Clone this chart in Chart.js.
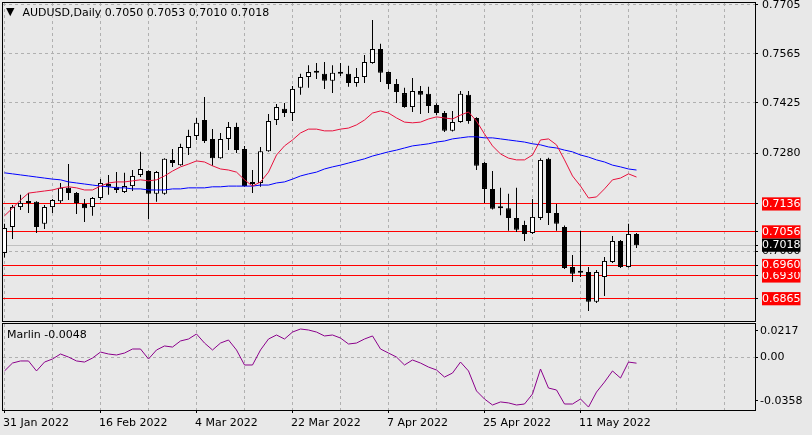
<!DOCTYPE html>
<html>
<head>
<meta charset="utf-8">
<title>AUDUSD, Daily</title>
<script src="https://cdn.jsdelivr.net/npm/chart.js@4.4.1/dist/chart.umd.min.js"></script>
<style>
  html, body { margin: 0; padding: 0; background: #e8e8e8; }
  #wrap {
    position: relative; width: 812px; height: 435px; overflow: hidden;
    background: #e8e8e8; color: #000;
    font-family: 'DejaVu Sans', sans-serif; font-size: 11px;
  }
  canvas { position: absolute; left: 0; }
  #main { top: 0; }
  #ind { top: 320px; }
  .caption { position: absolute; white-space: pre; line-height: 13px; }
  #title { left: 6px; top: 6px; }
  #title .tri { font-size: 11px; margin-right: 8px; position: relative; top: -1px; }
  #marlin { left: 7px; top: 328px; }
</style>
</head>
<body>
<div id="wrap">
  <canvas id="main" width="812" height="322"></canvas>
  <canvas id="ind" width="812" height="114"></canvas>
  <div id="title" class="caption"><span class="tri">▼</span>AUDUSD,Daily 0.7050 0.7053 0.7010 0.7018</div>
  <div id="marlin" class="caption">Marlin -0.0048</div>
</div>
<script>
/* ===== Data (one entry per daily bar, 31 Jan → 20 May 2022) ===== */
const opens = [
  0.6996, 0.7070, 0.7127, 0.7142, 0.7142, 0.7079, 0.7127, 0.7144, 0.7182, 0.7167,
  0.7136, 0.7127, 0.7153, 0.7193, 0.7185, 0.7170, 0.7187, 0.7219, 0.7230, 0.7165,
  0.7165, 0.7262, 0.7247, 0.7296, 0.7330, 0.7376, 0.7322, 0.7267, 0.7322, 0.7356,
  0.7293, 0.7196, 0.7196, 0.7287, 0.7376, 0.7408, 0.7396, 0.7468, 0.7499, 0.7511,
  0.7508, 0.7488, 0.7511, 0.7508, 0.7482, 0.7499, 0.7539, 0.7579, 0.7513, 0.7479,
  0.7453, 0.7413, 0.7459, 0.7451, 0.7419, 0.7396, 0.7345, 0.7370, 0.7448, 0.7382,
  0.7253, 0.7179, 0.7127, 0.7124, 0.7096, 0.7076, 0.7053, 0.7096, 0.7265, 0.7110,
  0.7070, 0.6956, 0.6941, 0.6941, 0.6856, 0.6927, 0.6970, 0.7030, 0.6956, 0.7050
];
const highs = [
  0.7079, 0.7133, 0.7162, 0.7167, 0.7144, 0.7133, 0.7150, 0.7196, 0.7250, 0.7170,
  0.7150, 0.7156, 0.7207, 0.7219, 0.7227, 0.7225, 0.7233, 0.7285, 0.7232, 0.7230,
  0.7267, 0.7293, 0.7308, 0.7348, 0.7382, 0.7442, 0.7350, 0.7339, 0.7370, 0.7368,
  0.7302, 0.7233, 0.7299, 0.7393, 0.7422, 0.7425, 0.7473, 0.7508, 0.7533, 0.7539,
  0.7542, 0.7533, 0.7539, 0.7531, 0.7525, 0.7562, 0.7662, 0.7594, 0.7515, 0.7493,
  0.7468, 0.7496, 0.7473, 0.7471, 0.7424, 0.7402, 0.7402, 0.7459, 0.7459, 0.7384,
  0.7256, 0.7230, 0.7182, 0.7165, 0.7182, 0.7088, 0.7150, 0.7267, 0.7268, 0.7136,
  0.7074, 0.6990, 0.7059, 0.6956, 0.6947, 0.6984, 0.7044, 0.7033, 0.7079, 0.7053
];
const lows = [
  0.6983, 0.7036, 0.7119, 0.7110, 0.7053, 0.7064, 0.7110, 0.7139, 0.7147, 0.7107,
  0.7084, 0.7102, 0.7147, 0.7162, 0.7167, 0.7167, 0.7173, 0.7213, 0.7093, 0.7142,
  0.7162, 0.7242, 0.7245, 0.7276, 0.7319, 0.7310, 0.7245, 0.7265, 0.7290, 0.7282,
  0.7185, 0.7167, 0.7185, 0.7285, 0.7362, 0.7385, 0.7373, 0.7448, 0.7468, 0.7493,
  0.7465, 0.7453, 0.7502, 0.7471, 0.7471, 0.7482, 0.7537, 0.7485, 0.7465, 0.7425,
  0.7411, 0.7399, 0.7393, 0.7396, 0.7390, 0.7342, 0.7343, 0.7368, 0.7365, 0.7233,
  0.7139, 0.7120, 0.7104, 0.7059, 0.7056, 0.7030, 0.7050, 0.7090, 0.7076, 0.7059,
  0.6950, 0.6913, 0.6927, 0.6830, 0.6853, 0.6873, 0.6967, 0.6953, 0.6954, 0.7010
];
const closes = [
  0.7067, 0.7127, 0.7139, 0.7139, 0.7070, 0.7127, 0.7147, 0.7182, 0.7167, 0.7139,
  0.7124, 0.7153, 0.7196, 0.7185, 0.7176, 0.7187, 0.7216, 0.7236, 0.7165, 0.7227,
  0.7265, 0.7253, 0.7299, 0.7330, 0.7368, 0.7316, 0.7267, 0.7322, 0.7356, 0.7290,
  0.7187, 0.7193, 0.7287, 0.7373, 0.7413, 0.7396, 0.7465, 0.7499, 0.7513, 0.7516,
  0.7488, 0.7511, 0.7508, 0.7482, 0.7499, 0.7542, 0.7579, 0.7511, 0.7479, 0.7456,
  0.7413, 0.7459, 0.7448, 0.7416, 0.7396, 0.7345, 0.7370, 0.7451, 0.7373, 0.7245,
  0.7179, 0.7122, 0.7124, 0.7096, 0.7062, 0.7050, 0.7099, 0.7262, 0.7110, 0.7079,
  0.6953, 0.6936, 0.6939, 0.6856, 0.6941, 0.6973, 0.7030, 0.6956, 0.7050, 0.7018
];
// red moving average
const maFast = [
  0.7102, 0.7124, 0.7147, 0.7167, 0.7170, 0.7173, 0.7176, 0.7182, 0.7185, 0.7182,
  0.7176, 0.7176, 0.7187, 0.7196, 0.7199, 0.7199, 0.7202, 0.7205, 0.7202, 0.7205,
  0.7216, 0.7230, 0.7242, 0.7250, 0.7259, 0.7256, 0.7245, 0.7236, 0.7233, 0.7227,
  0.7205, 0.7187, 0.7199, 0.7227, 0.7276, 0.7302, 0.7319, 0.7339, 0.7350, 0.7350,
  0.7345, 0.7345, 0.7350, 0.7353, 0.7362, 0.7376, 0.7396, 0.7402, 0.7396, 0.7382,
  0.7370, 0.7368, 0.7370, 0.7379, 0.7385, 0.7382, 0.7379, 0.7390, 0.7399, 0.7373,
  0.7336, 0.7302, 0.7279, 0.7267, 0.7262, 0.7262, 0.7276, 0.7319, 0.7322, 0.7305,
  0.7262, 0.7216, 0.7187, 0.7153, 0.7156, 0.7179, 0.7205, 0.7210, 0.7222, 0.7213
];
// blue moving average
const maSlow = [
  0.7225, 0.7222, 0.7219, 0.7216, 0.7213, 0.7210, 0.7207, 0.7205, 0.7199, 0.7196,
  0.7193, 0.7190, 0.7187, 0.7185, 0.7182, 0.7182, 0.7179, 0.7179, 0.7176, 0.7176,
  0.7176, 0.7179, 0.7179, 0.7182, 0.7182, 0.7182, 0.7185, 0.7185, 0.7187, 0.7187,
  0.7187, 0.7187, 0.7190, 0.7190, 0.7196, 0.7199, 0.7207, 0.7216, 0.7222, 0.7227,
  0.7236, 0.7242, 0.7247, 0.7253, 0.7259, 0.7265, 0.7273, 0.7279, 0.7285, 0.7290,
  0.7296, 0.7302, 0.7305, 0.7308, 0.7313, 0.7316, 0.7322, 0.7325, 0.7328, 0.7328,
  0.7325, 0.7325, 0.7322, 0.7319, 0.7316, 0.7313, 0.7308, 0.7305, 0.7299, 0.7296,
  0.7290, 0.7285, 0.7276, 0.7270, 0.7262, 0.7256, 0.7247, 0.7242, 0.7236, 0.7233
];
// Marlin oscillator (lower window)
const marlin = [
  -0.0112, -0.0047, -0.0030, -0.0030, -0.0112, -0.0039, -0.0014, 0.0027, 0.0002, -0.0030,
  -0.0039, -0.0006, 0.0043, 0.0027, 0.0019, 0.0035, 0.0068, 0.0068, -0.0014, 0.0060,
  0.0093, 0.0084, 0.0134, 0.0150, 0.0191, 0.0117, 0.0060, 0.0117, 0.0142, 0.0060,
  -0.0063, -0.0063, 0.0060, 0.0150, 0.0183, 0.0150, 0.0207, 0.0232, 0.0224, 0.0207,
  0.0175, 0.0183, 0.0158, 0.0109, 0.0117, 0.0150, 0.0175, 0.0068, 0.0035, 0.0002,
  -0.0063, -0.0022, -0.0047, -0.0080, -0.0104, -0.0162, -0.0129, -0.0039, -0.0112, -0.0276,
  -0.0342, -0.0391, -0.0366, -0.0374, -0.0391, -0.0383, -0.0301, -0.0096, -0.0252, -0.0268,
  -0.0383, -0.0383, -0.0342, -0.0408, -0.0285, -0.0203, -0.0112, -0.0170, -0.0039, -0.0048
];

// price axis: regular grid labels, then the horizontal levels, then the bid
const priceTicks = [0.7705, 0.7565, 0.7425, 0.7280, 0.7000];
const levels = [0.6865, 0.6930, 0.6960, 0.7056, 0.7136];
const bid = 0.7018;
const marlinTicks = [0.0217, 0, -0.0358];
const gridBars = [0, 6, 12, 18, 24, 30, 36, 42, 48, 54, 60, 66, 72, 78, 84, 90];
const dateBars = [0, 12, 24, 36, 48, 60, 72];
const dateLabels = ['31 Jan 2022', '16 Feb 2022', '4 Mar 2022', '22 Mar 2022', '7 Apr 2022', '25 Apr 2022', '11 May 2022'];

/* ===== View ranges ===== */
const X_MIN = -0.1875, X_MAX = 93.8125;     // 8 px per bar
const P_MIN = 0.68012, P_MAX = 0.77107;
const M_MIN = -0.04321, M_MAX = 0.02731;

const GRID = '#b0b0b0';
const NONE = 'rgba(0,0,0,0)';

Chart.defaults.font.family = "'DejaVu Sans', sans-serif";
Chart.defaults.font.size = 11;
Chart.defaults.color = '#000';

const tv = c => (c && c.tick ? c.tick.value : null);
const isLevel = v => levels.includes(v);
const isMarked = v => isLevel(v) || v === bid;
const pts = arr => arr.map((v, i) => ({ x: i, y: v }));

// black frame round each plot window
const framePlugin = {
  id: 'frame',
  afterDraw(chart) {
    const { ctx, chartArea: a } = chart;
    ctx.save();
    ctx.strokeStyle = '#000';
    ctx.lineWidth = 1;
    ctx.strokeRect(a.left - 0.5, a.top - 0.5, a.right - a.left + 1, a.bottom - a.top + 1);
    ctx.restore();
  }
};

const timeAxis = (withLabels) => ({
  type: 'linear',
  min: X_MIN, max: X_MAX, bounds: 'data', offset: false,
  afterBuildTicks: s => { s.ticks = gridBars.map(v => ({ value: v })); },
  grid: {
    color: GRID, offset: false,
    drawTicks: withLabels, tickLength: 3,
    tickColor: c => (dateBars.includes(tv(c)) ? '#000' : NONE)
  },
  border: { display: false, dash: [3, 3] },
  ticks: {
    display: withLabels, autoSkip: false, maxRotation: 0, minRotation: 0,
    align: 'start', padding: 4, labelOffset: -1.5, color: '#000',
    callback: v => { const k = dateBars.indexOf(v); return k < 0 ? '' : dateLabels[k]; }
  },
  afterFit: s => { s.height = withLabels ? 24 : 0; s.paddingLeft = 0; s.paddingRight = 0; }
});

const common = {
  responsive: false,
  devicePixelRatio: 1,
  animation: false,
  events: [],
  plugins: { legend: { display: false }, tooltip: { enabled: false } }
};

/* ===== Price window ===== */
new Chart(document.getElementById('main'), {
  type: 'bar',
  data: {
    datasets: [
      {
        type: 'line', data: pts(maFast), borderColor: '#e8103c', borderWidth: 1,
        pointRadius: 0, tension: 0, order: 0
      },
      {
        type: 'line', data: pts(maSlow), borderColor: '#0000ff', borderWidth: 1,
        pointRadius: 0, tension: 0, order: 0
      },
      {
        // candle bodies
        type: 'bar', data: opens.map((o, i) => ({ x: i, y: [o, closes[i]] })),
        backgroundColor: c => (closes[c.dataIndex] >= opens[c.dataIndex] ? '#ffffff' : '#000000'),
        borderColor: '#000', borderWidth: 1, borderSkipped: false,
        barThickness: 5, minBarLength: 2, inflateAmount: 0, grouped: false, order: 1
      },
      {
        // wicks
        type: 'bar', data: lows.map((l, i) => ({ x: i, y: [l, highs[i]] })),
        backgroundColor: '#000', borderWidth: 0,
        barThickness: 1, inflateAmount: 0, grouped: false, order: 2
      }
    ]
  },
  options: Object.assign({}, common, {
    layout: { padding: { top: 3, left: 3, right: 0, bottom: 1 } },
    scales: {
      x: timeAxis(false),
      y: {
        position: 'right', min: P_MIN, max: P_MAX, bounds: 'data',
        afterBuildTicks: s => { s.ticks = priceTicks.concat(levels, [bid]).map(v => ({ value: v })); },
        grid: {
          color: c => { const v = tv(c); return isLevel(v) ? '#ff0000' : v === bid ? '#c0c0c0' : GRID; },
          tickLength: 3, tickColor: '#000'
        },
        border: { display: false, dash: c => (isMarked(tv(c)) ? [] : [3, 3]) },
        ticks: {
          autoSkip: false, padding: 4,
          color: c => (isMarked(tv(c)) ? '#ffffff' : '#000000'),
          showLabelBackdrop: c => isMarked(tv(c)),
          backdropColor: c => (tv(c) === bid ? '#000000' : '#ff0000'),
          backdropPadding: c => (tv(c) === bid
            ? { left: 5, right: 1, top: 0.5, bottom: 0.5 }
            : { left: 5, right: 6, top: 0.5, bottom: 0.5 }),
          callback: v => v.toFixed(4)
        },
        afterFit: s => { s.width = 57; s.paddingTop = 0; s.paddingBottom = 0; }
      }
    }
  }),
  plugins: [framePlugin]
});

/* ===== Marlin window ===== */
new Chart(document.getElementById('ind'), {
  type: 'line',
  data: {
    datasets: [{
      data: pts(marlin), borderColor: '#8b008b', borderWidth: 1, pointRadius: 0, tension: 0
    }]
  },
  options: Object.assign({}, common, {
    layout: { padding: { top: 4, left: 3, right: 0, bottom: 0 } },
    scales: {
      x: timeAxis(true),
      y: {
        position: 'right', min: M_MIN, max: M_MAX, bounds: 'data',
        afterBuildTicks: s => { s.ticks = marlinTicks.map(v => ({ value: v })); },
        grid: { color: c => (tv(c) === 0 ? GRID : NONE), tickLength: 3, tickColor: '#000' },
        border: { display: false, dash: [3, 3] },
        ticks: {
          autoSkip: false, padding: 2, color: '#000',
          callback: v => (v === 0 ? '0.00' : v.toFixed(4))
        },
        afterFit: s => { s.width = 57; s.paddingTop = 0; s.paddingBottom = 0; }
      }
    }
  }),
  plugins: [framePlugin]
});
</script>
</body>
</html>
